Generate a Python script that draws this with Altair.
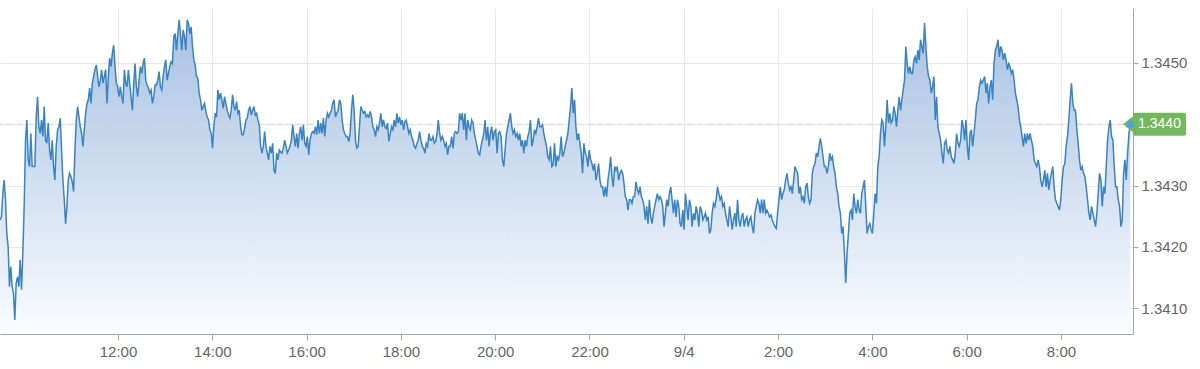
import altair as alt
import pandas as pd

# Price series, one sample every 102 s from 9/3 09:30
START = "2020-09-03T09:30:00"
STEP = "102s"

prices_1 = [
    1.34244, 1.34249, 1.34287, 1.34309, 1.34277, 1.34222, 1.34200, 1.34135, 1.34168, 1.34135,
    1.34124, 1.34081, 1.34141, 1.34151, 1.34135, 1.34179, 1.34130, 1.34190, 1.34266, 1.34374,
    1.34407, 1.34342, 1.34331, 1.34385, 1.34331, 1.34331, 1.34331, 1.34412, 1.34445, 1.34396,
    1.34385, 1.34407, 1.34380, 1.34429, 1.34374, 1.34369, 1.34402, 1.34358, 1.34342, 1.34374,
    1.34331, 1.34309, 1.34364, 1.34391, 1.34396, 1.34410, 1.34358, 1.34309, 1.34277, 1.34238,
    1.34266, 1.34309, 1.34320, 1.34315, 1.34306, 1.34290, 1.34358, 1.34407, 1.34429, 1.34412,
    1.34396, 1.34385, 1.34364, 1.34391, 1.34418, 1.34434, 1.34440, 1.34459, 1.34434, 1.34467,
    1.34478, 1.34489, 1.34497, 1.34478, 1.34461, 1.34472, 1.34489, 1.34467, 1.34478, 1.34489,
    1.34434, 1.34478, 1.34508, 1.34494, 1.34516, 1.34529, 1.34494, 1.34467, 1.34461, 1.34445,
    1.34461, 1.34445, 1.34434, 1.34489, 1.34467, 1.34461, 1.34489, 1.34467, 1.34445, 1.34423,
    1.34467, 1.34499, 1.34461, 1.34445, 1.34472,
]
prices_2 = [
    1.34494, 1.34483, 1.34499, 1.34508, 1.34472, 1.34464, 1.34459, 1.34451, 1.34456, 1.34434,
    1.34445, 1.34464, 1.34464, 1.34472, 1.34486, 1.34461, 1.34456, 1.34478, 1.34494, 1.34505,
    1.34472, 1.34483, 1.34494, 1.34502, 1.34499, 1.34543, 1.34548, 1.34521, 1.34548, 1.34570,
    1.34548, 1.34521, 1.34554, 1.34543, 1.34521, 1.34570, 1.34565, 1.34548, 1.34559, 1.34527,
    1.34505, 1.34497, 1.34478, 1.34475, 1.34451, 1.34440, 1.34423, 1.34429, 1.34434, 1.34421,
    1.34412, 1.34407, 1.34391, 1.34385, 1.34361, 1.34396, 1.34418, 1.34412, 1.34456, 1.34440,
    1.34451, 1.34440, 1.34426, 1.34445, 1.34434, 1.34423, 1.34415, 1.34410, 1.34423, 1.34448,
    1.34429, 1.34423, 1.34437, 1.34418, 1.34423, 1.34396, 1.34383, 1.34383, 1.34393, 1.34407,
    1.34410, 1.34423, 1.34429, 1.34415, 1.34423, 1.34429, 1.34415, 1.34418, 1.34407, 1.34399,
    1.34364, 1.34353, 1.34364, 1.34388, 1.34364, 1.34353, 1.34342, 1.34364, 1.34353, 1.34369,
    1.34325, 1.34320, 1.34353, 1.34342, 1.34358, 1.34355, 1.34353, 1.34361, 1.34374, 1.34364,
    1.34353, 1.34358, 1.34364, 1.34374, 1.34399, 1.34380, 1.34364, 1.34385, 1.34361, 1.34385,
]
prices_3 = [
    1.34396, 1.34374, 1.34399, 1.34369, 1.34364, 1.34380, 1.34350, 1.34374, 1.34385, 1.34388,
    1.34385, 1.34396, 1.34383, 1.34407, 1.34385, 1.34402, 1.34385, 1.34410, 1.34380, 1.34407,
    1.34418, 1.34412, 1.34418, 1.34423, 1.34434, 1.34440, 1.34412, 1.34418, 1.34423, 1.34440,
    1.34434, 1.34407, 1.34391, 1.34385, 1.34380, 1.34380, 1.34372, 1.34385, 1.34423, 1.34448,
    1.34423, 1.34374, 1.34361, 1.34364, 1.34396, 1.34429, 1.34423, 1.34418, 1.34421, 1.34412,
    1.34415, 1.34412, 1.34421, 1.34412, 1.34396, 1.34391, 1.34380, 1.34396, 1.34391, 1.34402,
    1.34418, 1.34396, 1.34407, 1.34396, 1.34393, 1.34402, 1.34372, 1.34385, 1.34396, 1.34391,
    1.34407, 1.34396, 1.34418, 1.34402, 1.34412, 1.34399, 1.34407, 1.34391, 1.34404, 1.34407,
    1.34396, 1.34385, 1.34391, 1.34380, 1.34374, 1.34364, 1.34361, 1.34369, 1.34374, 1.34388,
    1.34374, 1.34364, 1.34361, 1.34353, 1.34369, 1.34364, 1.34385, 1.34374, 1.34374, 1.34380,
    1.34369, 1.34372, 1.34383, 1.34407, 1.34385, 1.34374, 1.34380, 1.34374, 1.34364, 1.34369,
    1.34350, 1.34364, 1.34364, 1.34380, 1.34361, 1.34385, 1.34388, 1.34385, 1.34388, 1.34418,
    1.34407, 1.34418, 1.34391, 1.34418, 1.34374, 1.34407, 1.34396, 1.34391, 1.34407, 1.34402,
    1.34385, 1.34374, 1.34364, 1.34353, 1.34350,
]
prices_4 = [
    1.34364, 1.34374, 1.34385, 1.34407, 1.34374, 1.34396, 1.34364, 1.34385, 1.34396, 1.34374,
    1.34388, 1.34391, 1.34353, 1.34385, 1.34388, 1.34380, 1.34342, 1.34331, 1.34358, 1.34385,
    1.34396, 1.34407, 1.34418, 1.34396, 1.34385, 1.34391, 1.34380, 1.34385, 1.34374, 1.34385,
    1.34364, 1.34374, 1.34353, 1.34374, 1.34364, 1.34380, 1.34388, 1.34407, 1.34364, 1.34374,
    1.34391, 1.34385, 1.34396, 1.34410, 1.34396, 1.34396, 1.34399, 1.34385, 1.34374, 1.34364,
    1.34347, 1.34342, 1.34364, 1.34331, 1.34334, 1.34369, 1.34331, 1.34347, 1.34342, 1.34353,
    1.34380, 1.34347, 1.34353, 1.34364, 1.34374, 1.34385, 1.34407, 1.34429, 1.34459, 1.34418,
    1.34440, 1.34396, 1.34374, 1.34385, 1.34369, 1.34353, 1.34320, 1.34369, 1.34353, 1.34347,
    1.34331, 1.34358, 1.34342, 1.34336, 1.34325, 1.34336, 1.34309, 1.34320, 1.34336, 1.34309,
    1.34298, 1.34298, 1.34282, 1.34298, 1.34282, 1.34309, 1.34325, 1.34347, 1.34315, 1.34298,
    1.34331, 1.34325, 1.34331, 1.34309, 1.34320, 1.34325, 1.34320, 1.34304, 1.34282, 1.34277,
    1.34260, 1.34277, 1.34277, 1.34271, 1.34282, 1.34282, 1.34306, 1.34293, 1.34287, 1.34298,
    1.34282, 1.34277, 1.34266, 1.34244, 1.34266, 1.34238, 1.34277, 1.34249, 1.34238, 1.34255,
    1.34266, 1.34277, 1.34287, 1.34277, 1.34282,
]
prices_5 = [
    1.34277, 1.34266, 1.34233, 1.34255, 1.34277, 1.34266, 1.34287, 1.34298, 1.34277, 1.34255,
    1.34277, 1.34249, 1.34277, 1.34266, 1.34238, 1.34233, 1.34260, 1.34228, 1.34287, 1.34266,
    1.34244, 1.34277, 1.34266, 1.34233, 1.34255, 1.34244, 1.34266, 1.34255, 1.34233, 1.34266,
    1.34260, 1.34244, 1.34249, 1.34255, 1.34244, 1.34249, 1.34222, 1.34228, 1.34255, 1.34271,
    1.34266, 1.34277, 1.34298, 1.34287, 1.34277, 1.34282, 1.34266, 1.34271, 1.34255, 1.34244,
    1.34233, 1.34266, 1.34249, 1.34228, 1.34244, 1.34255, 1.34233, 1.34277, 1.34244, 1.34233,
    1.34249, 1.34255, 1.34233, 1.34244, 1.34249, 1.34233, 1.34244, 1.34249, 1.34233, 1.34222,
    1.34255, 1.34266, 1.34277, 1.34271, 1.34255, 1.34277, 1.34255, 1.34277, 1.34255, 1.34260,
    1.34255, 1.34249, 1.34252, 1.34244, 1.34238, 1.34233, 1.34230, 1.34255, 1.34277, 1.34298,
    1.34277, 1.34287, 1.34293, 1.34309, 1.34320, 1.34304, 1.34293, 1.34298, 1.34287, 1.34309,
    1.34331, 1.34325, 1.34320, 1.34287, 1.34298, 1.34277, 1.34282, 1.34271, 1.34298, 1.34304,
    1.34282, 1.34271, 1.34277, 1.34320, 1.34331, 1.34336, 1.34353, 1.34347, 1.34364, 1.34377,
    1.34364, 1.34347, 1.34331, 1.34331, 1.34320, 1.34331, 1.34353, 1.34342, 1.34347, 1.34331,
    1.34320, 1.34298, 1.34287, 1.34266, 1.34255, 1.34222,
]
prices_6 = [
    1.34233, 1.34190, 1.34141, 1.34190, 1.34222, 1.34255, 1.34260, 1.34244, 1.34287, 1.34266,
    1.34255, 1.34277, 1.34260, 1.34255, 1.34287, 1.34298, 1.34309, 1.34266, 1.34222, 1.34233,
    1.34238, 1.34228, 1.34222, 1.34255, 1.34287, 1.34271, 1.34331, 1.34347, 1.34385, 1.34407,
    1.34402, 1.34364, 1.34396, 1.34440, 1.34402, 1.34418, 1.34402, 1.34407, 1.34429, 1.34418,
    1.34396, 1.34423, 1.34445, 1.34423, 1.34440, 1.34456, 1.34472, 1.34527, 1.34499, 1.34483,
    1.34494, 1.34483, 1.34483, 1.34505, 1.34510, 1.34499, 1.34521, 1.34505, 1.34538, 1.34527,
    1.34516, 1.34565, 1.34527, 1.34494, 1.34478, 1.34472, 1.34451, 1.34461, 1.34478, 1.34407,
    1.34445, 1.34396, 1.34385, 1.34374, 1.34353, 1.34336, 1.34369, 1.34374, 1.34358, 1.34353,
    1.34364, 1.34347, 1.34342, 1.34336, 1.34353, 1.34385, 1.34369, 1.34364, 1.34374, 1.34407,
    1.34396, 1.34374, 1.34407, 1.34364, 1.34342, 1.34385, 1.34391, 1.34364, 1.34385, 1.34407,
    1.34434, 1.34440, 1.34461, 1.34472, 1.34467, 1.34472, 1.34478, 1.34451, 1.34467, 1.34434,
    1.34461, 1.34472, 1.34440, 1.34499, 1.34521, 1.34527, 1.34538, 1.34510, 1.34527, 1.34521,
    1.34505, 1.34516, 1.34505, 1.34489, 1.34499, 1.34494, 1.34483, 1.34489, 1.34472, 1.34451,
    1.34440, 1.34429, 1.34407, 1.34396, 1.34380, 1.34364, 1.34385, 1.34369, 1.34385, 1.34374,
    1.34385, 1.34374, 1.34364, 1.34342, 1.34336, 1.34331, 1.34342, 1.34331, 1.34309, 1.34298,
    1.34309, 1.34325, 1.34298, 1.34320, 1.34293, 1.34309, 1.34320, 1.34331, 1.34298, 1.34277,
    1.34271, 1.34266, 1.34260, 1.34277, 1.34309, 1.34331, 1.34336, 1.34364, 1.34380, 1.34407,
    1.34440, 1.34467, 1.34434, 1.34423, 1.34423, 1.34391, 1.34369, 1.34342, 1.34325, 1.34331,
    1.34320, 1.34315, 1.34298, 1.34277, 1.34255, 1.34244, 1.34266, 1.34255, 1.34244, 1.34233,
    1.34255, 1.34287, 1.34320, 1.34309, 1.34266, 1.34298, 1.34287, 1.34331, 1.34374, 1.34396,
    1.34407, 1.34380, 1.34374, 1.34331, 1.34298, 1.34298, 1.34277, 1.34266, 1.34233, 1.34244,
    1.34320, 1.34342, 1.34309, 1.34353, 1.34385, 1.34400,
]

y_ticks = [1.3410, 1.3420, 1.3430, 1.3440, 1.3450]
y_domain = [1.340579, 1.345897]
day1_hours = [12, 14, 16, 18, 20, 22]
day2_hours = [0, 2, 4, 6, 8]

prices = prices_1 + prices_2 + prices_3 + prices_4 + prices_5 + prices_6
times = pd.date_range(START, periods=len(prices), freq=STEP)
df = pd.DataFrame({"time": times, "price": prices})
last = df.tail(1).reset_index(drop=True)

x_ticks = [alt.DateTime(year=2020, month=9, date=3, hours=h) for h in day1_hours] + \
          [alt.DateTime(year=2020, month=9, date=4, hours=h) for h in day2_hours]
x_domain = [alt.DateTime(year=2020, month=9, date=3, hours=9, minutes=29, seconds=50),
            alt.DateTime(year=2020, month=9, date=4, hours=9, minutes=31, seconds=40)]

FONT = "Liberation Sans"
x_enc = alt.X(
    "time:T",
    scale=alt.Scale(domain=x_domain),
    axis=alt.Axis(
        values=x_ticks, title=None, grid=True, gridColor="#e8e8e8",
        domainColor="#a8a8a8", tickColor="#a8a8a8", tickSize=6, labelPadding=4,
        labelColor="#666666", labelFont=FONT, labelFontSize=15, labelFlush=False,
        labelExpr="hours(datum.value) == 0 ? timeFormat(datum.value, '%-m/%-d') : timeFormat(datum.value, '%-H:%M')",
    ),
)
y_enc = alt.Y(
    "price:Q",
    stack=None,
    scale=alt.Scale(domain=y_domain, zero=False, nice=False),
    axis=alt.Axis(
        orient="right", values=y_ticks, format=".4f", title=None, grid=True,
        gridColor="#e8e8e8", domainColor="#a8a8a8", tickColor="#a8a8a8",
        tickSize=5, labelPadding=3, labelColor="#666666", labelFont=FONT,
        labelFontSize=15, labelFlush=False,
        # the 1.3440 label sits under the current-price tag
        labelExpr="abs(datum.value - 1.344) < 0.00001 ? '' : datum.label",
    ),
)

gradient = alt.Gradient(
    gradient="linear",
    stops=[alt.GradientStop(color="#a7c1e2", offset=0),
           alt.GradientStop(color="#fafcff", offset=1)],
    x1=1, x2=1, y1=0, y2=1,
)

area = alt.Chart(df).mark_area(color=gradient).encode(
    x=x_enc, y=y_enc, y2=alt.value("height")
)
line = alt.Chart(df).mark_line(color="#3a83c3", strokeWidth=1.5).encode(x=x_enc, y=y_enc)
rule = alt.Chart(last).mark_rule(color="#d6d6d6", strokeDash=[6, 4], strokeWidth=1).encode(y=y_enc)

TAG = ("M-36.5,0 L-26.5,-8 L-26.5,-9.5 Q-26.5,-11.5 -24.5,-11.5 L24.5,-11.5 "
       "Q26.5,-11.5 26.5,-9.5 L26.5,9.5 Q26.5,11.5 24.5,11.5 L-24.5,11.5 "
       "Q-26.5,11.5 -26.5,9.5 L-26.5,8 Z")
tag = alt.Chart(last).mark_point(
    shape=TAG, size=4, filled=True, fill="#76b65e", opacity=1, strokeWidth=0
).encode(x=alt.value(1159.5), y=y_enc)
dot = alt.Chart(last).mark_circle(size=50, color="#45a5e0", opacity=1).encode(x=x_enc, y=y_enc)
tag_text = alt.Chart(last).mark_text(
    color="white", font=FONT, fontSize=14, align="center", baseline="middle"
).encode(x=alt.value(1159.5), y=y_enc, text=alt.Text("price:Q", format=".4f"))

chart = alt.layer(area, rule, line, tag, dot, tag_text).properties(
    width=1133, height=326,
    padding={"left": 0, "top": 8, "right": 67, "bottom": 35},
    autosize=alt.AutoSizeParams(type="none"),
).configure_view(stroke=None)

chart.save("out.html", embed_options={"renderer": "svg", "actions": False})
